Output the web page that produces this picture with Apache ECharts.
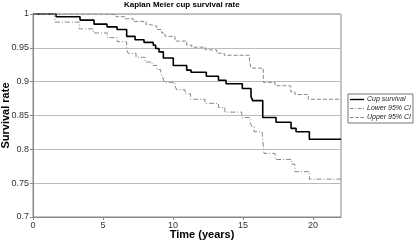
<!DOCTYPE html>
<html><head><meta charset="utf-8">
<script src="https://cdn.jsdelivr.net/npm/echarts@6/dist/echarts.min.js"></script>
<style>html,body{margin:0;padding:0;background:#fff}#c{width:417px;height:241px}</style>
</head><body><div id="c"></div>
<script>
const survTime = [0, 1.64, 3.36, 4.36, 5.29, 6.0, 6.69, 7.29, 7.93, 8.59, 8.76, 9.0, 9.31, 10.02, 10.98, 11.29, 12.38, 13.25, 13.79, 14.95, 15.57, 15.69, 16.41, 17.36, 18.43, 18.79, 19.74, 22];
const survVal  = [1, 0.996, 0.991, 0.985, 0.981, 0.977, 0.967, 0.962, 0.958, 0.954, 0.949, 0.944, 0.935, 0.924, 0.917, 0.914, 0.908, 0.902, 0.897, 0.890, 0.878, 0.872, 0.847, 0.840, 0.831, 0.826, 0.815, 0.815];
const lowerTime = [0, 1.57, 3.31, 4.31, 5.31, 6.02, 6.69, 6.79, 7.36, 8.0, 8.5, 8.84, 9.12, 9.26, 9.38, 10.14, 10.26, 10.86, 11.26, 12.29, 13.24, 13.71, 14.91, 15.5, 15.62, 15.79, 16.36, 16.5, 17.29, 18.48, 18.71, 19.74, 22];
const lowerVal  = [1, 0.988, 0.978, 0.972, 0.965, 0.959, 0.948, 0.942, 0.936, 0.929, 0.924, 0.918, 0.912, 0.907, 0.899, 0.894, 0.888, 0.882, 0.874, 0.868, 0.862, 0.855, 0.847, 0.841, 0.834, 0.826, 0.824, 0.794, 0.785, 0.778, 0.767, 0.756, 0.756];
const upperTime = [0, 5.36, 5.93, 6.57, 7.16, 8.07, 8.48, 8.84, 9.19, 9.43, 10.14, 10.98, 11.34, 12.32, 13.12, 13.66, 15.46, 15.57, 16.45, 17.29, 18.41, 18.71, 19.66, 22];
const upperVal  = [1, 0.999, 0.996, 0.993, 0.989, 0.984, 0.982, 0.977, 0.972, 0.967, 0.960, 0.954, 0.951, 0.947, 0.942, 0.939, 0.931, 0.920, 0.899, 0.894, 0.885, 0.881, 0.874, 0.874];
const seriesNames = ['Cup survival', 'Lower 95% CI', 'Upper 95% CI'];

const zip = (a, b) => a.map((t, i) => [t, b[i]]);
const chart = echarts.init(document.getElementById('c'), null, {renderer: 'canvas'});
const font = 'Liberation Sans, Arial, sans-serif';
const legendIcons = [
  'path://M0,0h16v1.6h-16z',
  'path://M0,0h4v1h-4zM6,0h1v1h-1zM9,0h4v1h-4zM15,0h1v1h-1z',
  'path://M0,0h4v1h-4zM6,0h4v1h-4zM12,0h4v1h-4z'
];
chart.setOption({
  animation: false,
  textStyle: {fontFamily: font},
  title: {text: 'Kaplan Meier cup survival rate', left: 124, top: 1, padding: 0,
    textStyle: {fontSize: 8, fontWeight: 'bold', color: '#000', fontFamily: font}},
  grid: {left: 33, right: 76, top: 14, bottom: 24, show: true, borderColor: '#888', borderWidth: 1,
    containLabel: false, outerBoundsMode: 'none'},
  legend: {orient: 'vertical', left: 348, top: 94, padding: [2, 2, 2, 2], itemGap: 2,
    itemWidth: 14, itemHeight: 7, borderColor: '#777', borderWidth: 1, backgroundColor: '#fff',
    symbolKeepAspect: true,
    data: seriesNames.map((n, i) => ({name: n, icon: legendIcons[i]})),
    textStyle: {fontSize: 7, fontStyle: 'italic', color: '#222', fontFamily: font, padding: [0, 0, 0, -2]}},
  xAxis: {type: 'value', min: 0, max: 22, interval: 5,
    name: 'Time (years)', nameLocation: 'middle', nameGap: 12, nameMoveOverlap: false,
    nameTextStyle: {fontSize: 11, fontWeight: 'bold', color: '#000', fontFamily: font, padding: [0, 0, 0, 30]},
    axisLine: {lineStyle: {color: '#888'}}, axisTick: {length: 3, lineStyle: {color: '#888'}},
    axisLabel: {fontSize: 9, color: '#333', margin: 4, showMaxLabel: false},
    splitLine: {show: false}},
  yAxis: {type: 'value', min: 0.7, max: 1, interval: 0.05,
    name: 'Survival rate', nameLocation: 'middle', nameGap: 22, nameMoveOverlap: false,
    nameTextStyle: {fontSize: 11, fontWeight: 'bold', color: '#000', fontFamily: font},
    axisLine: {show: true, lineStyle: {color: '#888'}}, axisTick: {show: true, length: 3, lineStyle: {color: '#888'}},
    axisLabel: {fontSize: 9, color: '#333', margin: 4,
      formatter: v => String(Math.round(v * 100) / 100)},
    splitLine: {show: true, lineStyle: {color: '#bbb', width: 1}}},
  series: [
    {name: seriesNames[0], type: 'line', step: 'end', symbol: 'none', data: zip(survTime, survVal),
      lineStyle: {color: '#000', width: 1.6}, itemStyle: {color: '#000'}, z: 3},
    {name: seriesNames[1], type: 'line', step: 'end', symbol: 'none', data: zip(lowerTime, lowerVal),
      lineStyle: {color: '#888', width: 1, type: [5, 2, 1, 2]}, itemStyle: {color: '#888'}},
    {name: seriesNames[2], type: 'line', step: 'end', symbol: 'none', data: zip(upperTime, upperVal),
      lineStyle: {color: '#888', width: 1, type: [4, 2]}, itemStyle: {color: '#888'}}
  ]
});
</script></body></html>
